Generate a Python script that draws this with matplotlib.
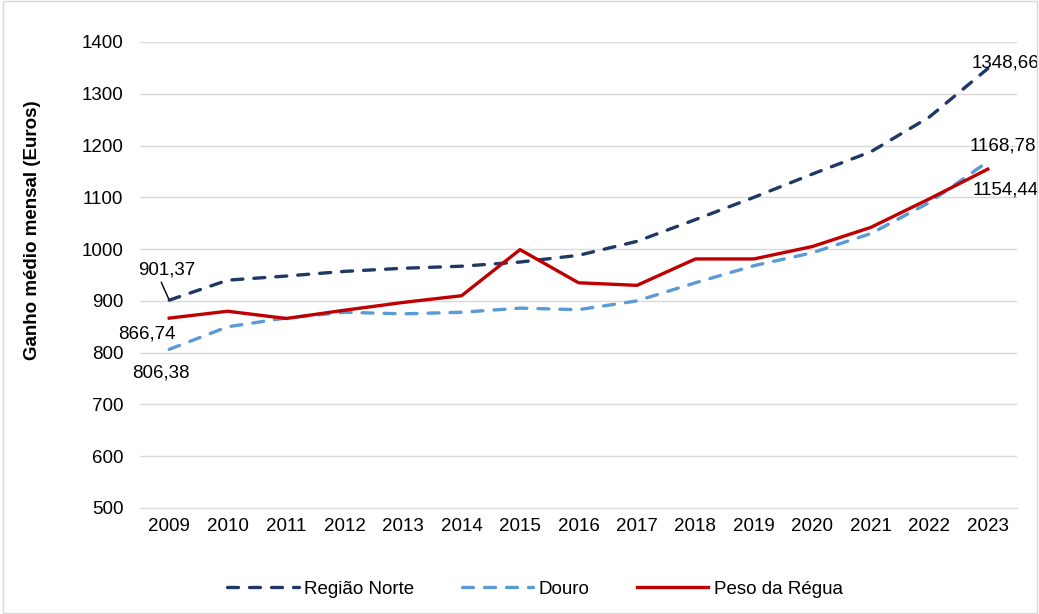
import matplotlib.pyplot as plt
from matplotlib.patches import Rectangle

plt.rcParams['font.family'] = ['Liberation Sans', 'DejaVu Sans']

anos = list(range(2009, 2024))
regiao_norte = [901.37, 940, 948, 957, 963, 967, 975, 988, 1015, 1057, 1100, 1145, 1188, 1255, 1348.66]
douro = [806.38, 850, 867, 878, 875, 878, 886, 883, 900, 935, 968, 993, 1030, 1090, 1168.78]
peso_regua = [866.74, 880, 866, 882, 897, 910, 999, 935, 930, 981, 981, 1005, 1042, 1097, 1154.44]

fs = 13.5
fig = plt.figure(figsize=(10.39, 6.14), dpi=100)
ax = fig.add_axes([140 / 1039, 1 - 508 / 614, 877 / 1039, 466 / 614])

tracejado = (0, (3.3, 3.3))
ax.plot(anos, regiao_norte, color='#1f3864', lw=2.4, ls=tracejado, dash_capstyle='round',
        label='Região Norte')
ax.plot(anos, douro, color='#5b9bd5', lw=2.4, ls=tracejado, dash_capstyle='round',
        label='Douro')
ax.plot(anos, peso_regua, color='#c00000', lw=2.4, label='Peso da Régua')

ax.set_ylim(500, 1400)
ax.set_yticks(range(500, 1401, 100))
ax.set_xlim(2008.5, 2023.5)
ax.set_xticks(anos)
ax.grid(axis='y', color='#d9d9d9', lw=1)
ax.set_axisbelow(True)
for s in ['top', 'right', 'left']:
    ax.spines[s].set_visible(False)
ax.spines['bottom'].set_color('#d9d9d9')
ax.tick_params(axis='y', length=0, labelsize=fs, pad=12)
ax.tick_params(axis='x', length=0, labelsize=fs, pad=7)
fig.text(33 / 1039, 1 - 230 / 614, 'Ganho médio mensal (Euros)', rotation=90,
         ha='center', va='center', fontsize=fs, fontweight='bold')

def fmt(v):
    return f'{v:.2f}'.replace('.', ',')

# rótulos dos valores extremos (offsets em pixels)
ax.annotate(fmt(regiao_norte[0]), (anos[0], regiao_norte[0]), xytext=(-2, 30),
            textcoords='offset pixels', ha='center', va='center', fontsize=fs)
ax.annotate('', (anos[0], regiao_norte[0]), xytext=(-8, 18), textcoords='offset pixels',
            arrowprops=dict(arrowstyle='-', color='black', lw=1, shrinkA=0, shrinkB=1))
ax.annotate(fmt(peso_regua[0]), (anos[0], peso_regua[0]), xytext=(-22, -16),
            textcoords='offset pixels', ha='center', va='center', fontsize=fs)
ax.annotate(fmt(douro[0]), (anos[0], douro[0]), xytext=(-8, -24),
            textcoords='offset pixels', ha='center', va='center', fontsize=fs)
ax.annotate(fmt(regiao_norte[-1]), (anos[-1], regiao_norte[-1]), xytext=(18, 6),
            textcoords='offset pixels', ha='center', va='center', fontsize=fs)
ax.annotate(fmt(douro[-1]), (anos[-1], douro[-1]), xytext=(15, 16),
            textcoords='offset pixels', ha='center', va='center', fontsize=fs)
ax.annotate(fmt(peso_regua[-1]), (anos[-1], peso_regua[-1]), xytext=(18, -21),
            textcoords='offset pixels', ha='center', va='center', fontsize=fs)

fig.legend(loc='center', bbox_to_anchor=(535 / 1039, 1 - 589 / 614), ncol=3, frameon=False,
           fontsize=fs, handlelength=3.8, handletextpad=0.32, columnspacing=2.5)

fig.patches.append(Rectangle((0.003, 0.001), 0.995, 0.997, transform=fig.transFigure,
                             fill=False, edgecolor='#d9d9d9', lw=1))

fig.savefig('out.png', dpi=100)
